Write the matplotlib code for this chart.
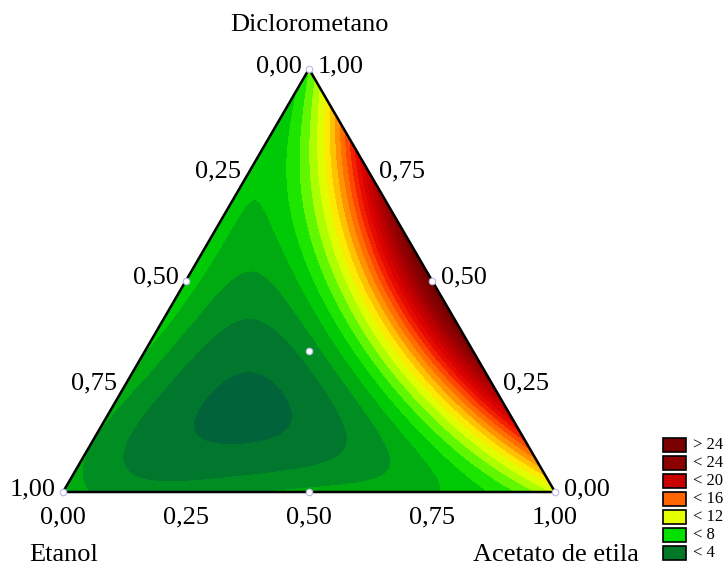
import numpy as np
import matplotlib
matplotlib.use("Agg")
import matplotlib.pyplot as plt
import matplotlib.tri as mtri
from matplotlib.colors import LinearSegmentedColormap
from matplotlib.patches import Rectangle

plt.rcParams["font.family"] = ["Liberation Serif", "DejaVu Serif"]

# components (vertex order: bottom-left, bottom-right, top)
components = ["Etanol", "Acetato de etila", "Diclorometano"]

# measured responses at mixture compositions (Acetato, Diclorometano; Etanol = rest)
obs_A = [0.242, 0.307, 0.342, 0.374, 0.421, 0.455, 0.5,
         0.62, 0.70, 0.75, 0.8,
         0.1, 0.139, 0.17, 0.2,
         0.25, 0.75, 0.1, 0.9, 1.0, 0.0,
         0.0, 0.116, 0.25, 0.5, 0.746, 0.83, 0.93,
         0.0, 0.0, 0.0, 0.0, 0.0,
         1 / 3, 0.253, 0.403, 0.10, 0.158, 0.324, 0.115, 0.194, 0.19, 0.035,
         0.436, 0.583, 0.671]
obs_D = [0.5, 0.5, 0.5, 0.5, 0.5, 0.5, 0.5,
         0.2, 0.2, 0.2, 0.2,
         0.8, 0.8, 0.8, 0.8,
         0.75, 0.25, 0.9, 0.1, 0.0, 1.0,
         0.0, 0.0, 0.0, 0.0, 0.0, 0.0, 0.0,
         0.25, 0.5, 0.6, 0.75, 0.9,
         1 / 3, 0.194, 0.194, 0.20, 0.384, 0.026, 0.123, 0.454, 0.62, 0.69,
         0.336, 0.061, 0.014]
obs_y = [8.0, 10.5, 12.0, 15.0, 20.0, 23.0, 26.0,
         8.0, 12.0, 17.0, 21.5,
         8.0, 12.0, 15.0, 19.0,
         20.0, 22.0, 16.0, 17.0, 10.5, 8.0,
         6.5, 6.0, 5.5, 5.5, 7.0, 7.5, 9.5,
         7.0, 7.0, 7.5, 8.0, 8.0,
         6.0, 3.2, 4.5, 4.5, 5.0, 5.0, 4.5, 5.5, 7.5, 7.5,
         8.0, 7.0, 6.5]

# simplex-centroid design points
design_E = [1.0, 0.0, 0.0, 0.5, 0.5, 0.0, 1 / 3]
design_A = [0.0, 1.0, 0.0, 0.5, 0.0, 0.5, 1 / 3]
design_D = [0.0, 0.0, 1.0, 0.0, 0.5, 0.5, 1 / 3]

tick_values = [0.0, 0.25, 0.5, 0.75, 1.0]
tick_labels = ["0,00", "0,25", "0,50", "0,75", "1,00"]

legend_labels = ["> 24", "< 24", "< 20", "< 16", "< 12", "< 8", "< 4"]
legend_colors = ["#7a0000", "#8c0000", "#c80000", "#ff6400", "#e6ff00", "#00e100", "#007828"]

# colour ramp for the filled contours
ramp_values = [2, 3, 4, 5, 6, 7, 8, 9, 10, 11, 12, 13, 14, 15, 16, 17, 18, 20, 22, 24, 27]
ramp_colors = ["#005a46", "#005a41", "#006e32", "#008228", "#009b19", "#00b90a",
               "#00dc00", "#3cf000", "#8cff00", "#c8ff00", "#f5ff00", "#ffd700",
               "#ffaa00", "#ff8200", "#ff5f00", "#fa3200", "#eb0f00", "#d20000",
               "#af0000", "#910000", "#700000"]

H = np.sqrt(3) / 2
DEG = 4


def to_xy(e, a, d):
    e, a, d = np.asarray(e), np.asarray(a), np.asarray(d)
    return a + d / 2, d * H


def terms(a, d):
    return np.column_stack([a ** i * d ** j
                            for i in range(DEG + 1) for j in range(DEG + 1 - i)])


coef, *_ = np.linalg.lstsq(terms(np.array(obs_A), np.array(obs_D)),
                           np.array(obs_y), rcond=None)

# evaluate the fitted surface on a triangular lattice
n = 90
aa, dd = [], []
for i in range(n + 1):
    for j in range(n + 1 - i):
        aa.append(i / n)
        dd.append(j / n)
aa, dd = np.array(aa), np.array(dd)
ee = np.clip(1 - aa - dd, 0, 1)
gx, gy = to_xy(ee, aa, dd)
z = terms(aa, dd) @ coef
tri = mtri.Triangulation(gx, gy)

vmin, vmax = ramp_values[0], ramp_values[-1]
pos = [(v - vmin) / (vmax - vmin) for v in ramp_values]
cmap = LinearSegmentedColormap.from_list("ramp", list(zip(pos, ramp_colors)))

fig = plt.figure(figsize=(7.25, 5.73), dpi=100)
ax = fig.add_axes([63 / 725, 81 / 573, 492 / 725, 423 / 573])
ax.set_xlim(0, 1)
ax.set_ylim(0, H)
ax.axis("off")

levels = np.arange(0, 31, 1.0)
ax.tricontourf(tri, np.clip(z, 0.5, 29.5), levels=levels, cmap=cmap, vmin=vmin, vmax=vmax)

# triangle outline
ax.plot([0, 1, 0.5, 0], [0, 0, H, 0], color="black", lw=1.8, clip_on=False,
        solid_joinstyle="miter")

# design points
px, py = to_xy(design_E, design_A, design_D)
ax.scatter(px, py, s=22, facecolor="white", edgecolor="#b8b8e8", lw=0.8,
           zorder=5, clip_on=False)

fs = 19
for t, lab in zip(tick_values, tick_labels):
    # Acetato de etila along the bottom
    ax.annotate(lab, (t, 0), xytext=(0, -25), textcoords="offset pixels",
                ha="center", va="center", fontsize=fs)
    # Etanol along the left edge
    x, y = to_xy(t, 0, 1 - t)
    ax.annotate(lab, (x, y), xytext=(-7, 3), textcoords="offset pixels",
                ha="right", va="center", fontsize=fs)
    # Diclorometano along the right edge
    x, y = to_xy(0, 1 - t, t)
    ax.annotate(lab, (x, y), xytext=(9, 3), textcoords="offset pixels",
                ha="left", va="center", fontsize=fs)

ax.annotate(components[0], (0, 0), xytext=(1, -63), textcoords="offset pixels",
            ha="center", va="center", fontsize=fs)
ax.annotate(components[1], (1, 0), xytext=(1, -63), textcoords="offset pixels",
            ha="center", va="center", fontsize=fs)
ax.annotate(components[2], (0.5, H), xytext=(0, 44), textcoords="offset pixels",
            ha="center", va="center", fontsize=fs)

# legend
for k, (lab, col) in enumerate(zip(legend_labels, legend_colors)):
    yc = 445 + 18 * k
    fig.add_artist(Rectangle((663 / 725, 1 - (yc + 7) / 573), 23 / 725, 14 / 573,
                             transform=fig.transFigure, facecolor=col,
                             edgecolor="black", lw=1.2))
    fig.text(693 / 725, 1 - yc / 573, lab, ha="left", va="center", fontsize=12)

fig.savefig("out.png", dpi=100)
